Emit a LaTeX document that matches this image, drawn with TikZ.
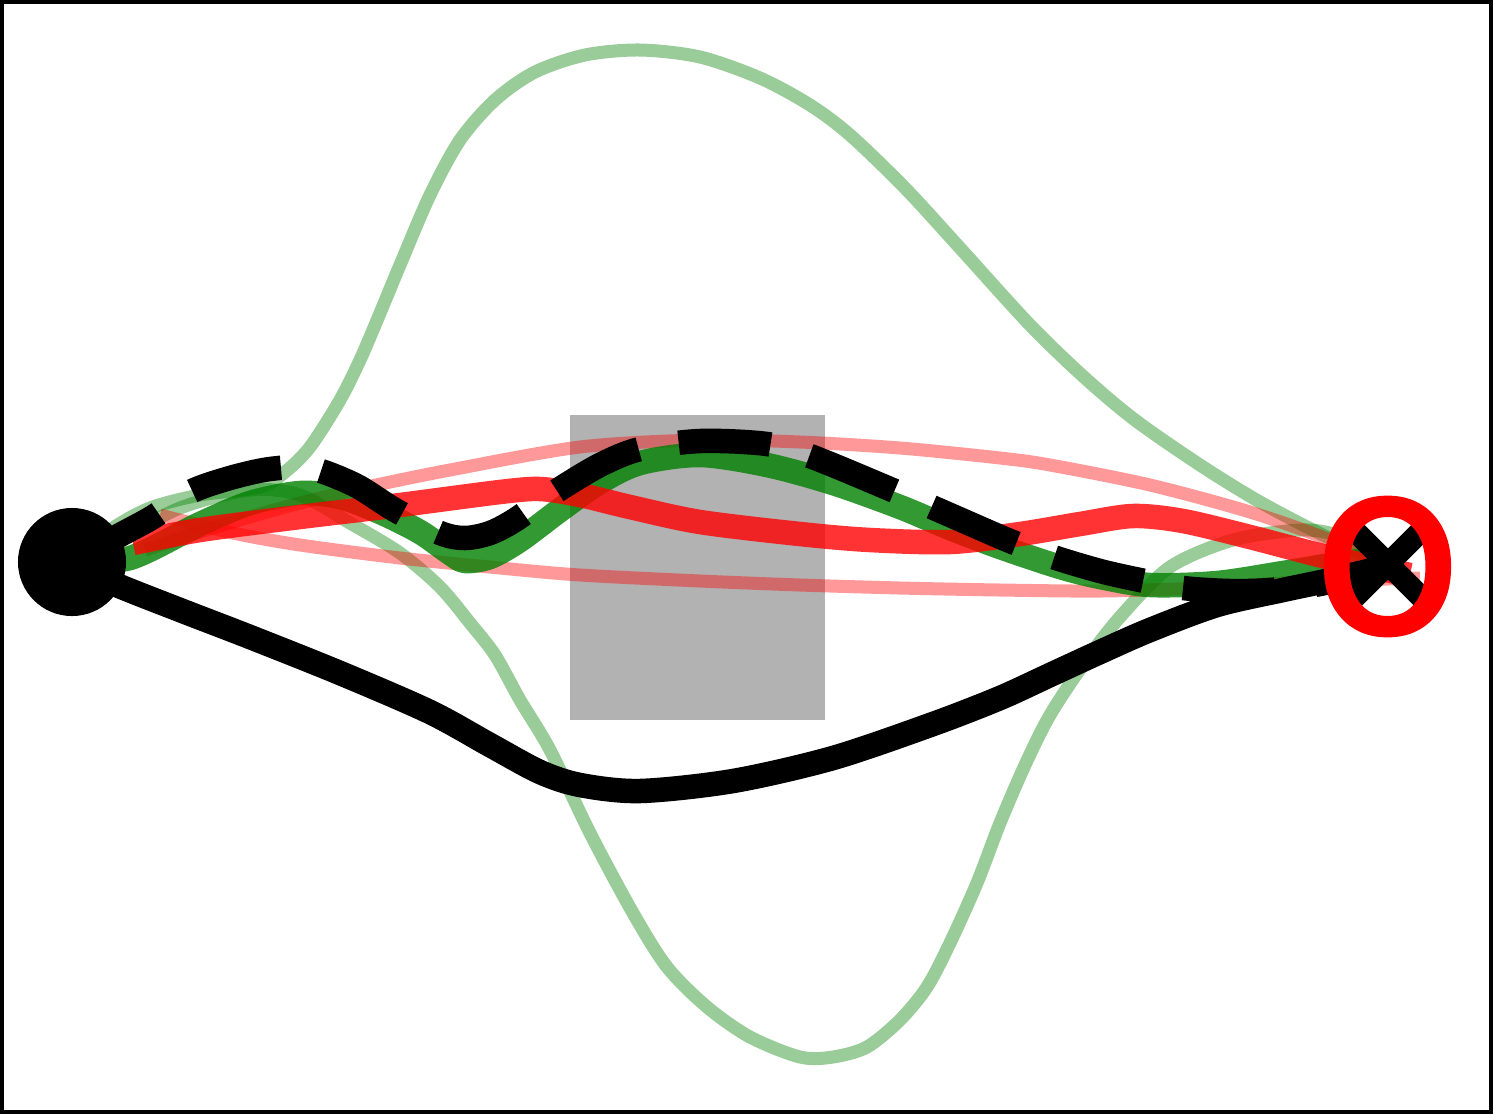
\documentclass[tikz,border=0pt]{standalone}
\usepackage{fontspec}
\newfontfamily\goalfont[FakeBold=4]{DejaVu Sans}
\definecolor{pathgreen}{rgb}{0,0.5,0}
\definecolor{obstgray}{rgb}{0.7,0.7,0.7}

\begin{document}
\begin{tikzpicture}[x=0.01cm, y=-0.01cm,
  sample/.style={line width=0.13cm, line join=round},
  traj/.style={line width=0.245cm, line join=round},
  greensample/.style={sample, draw=pathgreen, draw opacity=0.4},
  redsample/.style={sample, draw=red, draw opacity=0.4},
  greentraj/.style={traj, draw=pathgreen, draw opacity=0.8},
  redtraj/.style={traj, draw=red, draw opacity=0.8},
  besttraj/.style={traj, draw=black}]
\useasboundingbox (0,0) rectangle (1493,1114);
\draw [black, line width=0.035cm] (2,2) rectangle (1491,1112);
% obstacle
\fill [obstgray] (570,415) rectangle (825,720);
\coordinate (s) at (72,562);
\coordinate (g) at (1387.5,566.5);
\coordinate (x) at (1388,564);
% sampled paths
\draw [greensample] plot [smooth, tension=0.5] coordinates {(s) (110,530) (150,508) (200,495) (260,487) (285,472) (310,447) (340,400) (360,360) (378,318) (400,265) (430,195) (460,140) (495,100) (535,72) (585,55) (640,50) (700,57) (760,78) (810,105) (850,135) (905,188) (960,248) (1030,325) (1085,378) (1135,420) (1200,465) (1260,502) (1327,537) (1385,562)};
\draw [greensample] plot [smooth, tension=0.5] coordinates {(s) (110,545) (180,508) (250,490) (300,495) (350,523) (400,553) (440,587) (470,623) (495,655) (520,700) (550,750) (590,833) (633,913) (667,967) (707,1007) (750,1037) (800,1057) (833,1057) (867,1047) (900,1020) (927,987) (950,943) (977,883) (1000,823) (1025,765) (1050,715) (1085,662) (1120,617) (1170,567) (1233,540) (1300,530) (1340,536) (1385,560)};
\draw [redsample] plot [smooth, tension=0.5] coordinates {(145,550) (200,532) (250,517) (300,503) (367,487) (450,470) (580,447) (700,440) (800,442) (900,448) (1000,458) (1050,465) (1150,485) (1250,512) (1330,540) (1400,572)};
\draw [redsample] plot [smooth, tension=0.5] coordinates {(160,515) (233,533) (300,545) (400,558) (500,568) (580,575) (700,581) (800,585) (900,588) (1000,590) (1100,591) (1200,588) (1300,582) (1420,578)};
% planned paths
\draw [greentraj] plot [smooth, tension=0.5] coordinates {(s) (130,558) (200,524) (250,503) (300,493) (340,497) (380,512) (420,532) (450,553) (465,561) (490,557) (520,540) (560,510) (600,482) (640,463) (700,455) (767,465) (833,483) (900,507) (950,528) (1000,547) (1060,567) (1100,577) (1150,585) (1217,583) (1283,573) (1350,562) (1385,560)};
\draw [redtraj] plot [smooth, tension=0.5] coordinates {(133,543) (200,530) (300,517) (400,505) (500,492) (540,489) (580,495) (630,507) (700,522) (800,534) (870,540) (950,542) (1020,534) (1080,524) (1133,516) (1183,521) (1250,537) (1327,557) (1410,575)};
\draw [besttraj, dash pattern=on 0.92cm off 0.405cm] plot [smooth, tension=0.5] coordinates {(78,558) (120,535) (153,517) (190,492) (230,478) (270,469) (310,468) (355,485) (395,510) (440,533) (465,538) (490,533) (515,520) (555,492) (600,465) (640,449) (700,441) (767,444) (810,456) (890,489) (950,515) (1010,541) (1053,557) (1100,571) (1140,580) (1183,588) (1230,591) (1270,590) (1320,584) (1385,568)};
\draw [besttraj] plot [smooth, tension=0.5] coordinates {(s) (112,583) (180,610) (250,637) (340,673) (430,712) (490,745) (540,772) (580,785) (640,791) (733,781) (833,758) (933,724) (1000,698) (1050,675) (1100,652) (1150,630) (1217,605) (1283,590) (1330,580) (1385,567)};
% start and goal
\node [circle, fill=black, minimum size=1.08cm, inner sep=0pt] (start) at (s) {};
\draw [black, line width=0.22cm] ([shift={(-36,-36)}]x) -- ([shift={(36,36)}]x);
\draw [black, line width=0.22cm] ([shift={(36,-36)}]x) -- ([shift={(-36,36)}]x);
\node [text=red, inner sep=0pt, font=\goalfont\fontsize{50.6pt}{58pt}\selectfont] (goal) at (g) {O};
\end{tikzpicture}
\end{document}
